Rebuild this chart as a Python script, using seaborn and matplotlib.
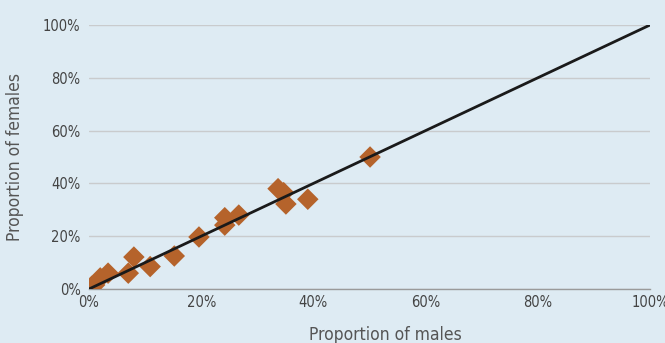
import matplotlib
matplotlib.use("Agg")
import matplotlib.pyplot as plt
import seaborn as sns
import pandas as pd
from matplotlib.ticker import PercentFormatter
from matplotlib import font_manager

males = [0.0, 0.005, 0.01, 0.02, 0.034, 0.07, 0.08, 0.109, 0.152, 0.196,
         0.242, 0.242, 0.267, 0.337, 0.347, 0.351, 0.39, 0.501]
females = [0.0, 0.01, 0.015, 0.042, 0.06, 0.06, 0.121, 0.085, 0.125, 0.197,
           0.242, 0.27, 0.28, 0.38, 0.365, 0.322, 0.34, 0.50]
line_x = [0.0, 1.0]
line_y = [0.0, 1.0]
ticks = [0, 0.2, 0.4, 0.6, 0.8, 1.0]

bg = "#deebf3"
sns.set_theme(style="white")
names = {f.name for f in font_manager.fontManager.ttflist}
if "DejaVu Sans Condensed" in names:
    fam = ["DejaVu Sans Condensed", "DejaVu Sans"]
else:
    fam = ["DejaVu Sans"]
plt.rcParams['font.family'] = fam
plt.rcParams['font.stretch'] = 'condensed'

fig = plt.figure(figsize=(6.65, 3.43), dpi=100, facecolor=bg)
ax = fig.add_axes([89/665, 1-289/343, (650-89)/665, (289-25)/343])
ax.set_facecolor(bg)

df = pd.DataFrame({"males": males, "females": females})
sns.scatterplot(data=df, x="males", y="females", marker="D", s=120,
                color="#b5632b", edgecolor="none", ax=ax, zorder=3)
sns.lineplot(x=line_x, y=line_y, color="#1a1a1a", linewidth=2, ax=ax, zorder=4)

ax.set_xlim(0, 1)
ax.set_ylim(0, 1)
ax.set_xticks(ticks)
ax.set_yticks(ticks)
ax.xaxis.set_major_formatter(PercentFormatter(1.0, decimals=0))
ax.yaxis.set_major_formatter(PercentFormatter(1.0, decimals=0))
ax.grid(axis="y", color="#c9cbcd", linewidth=1)
ax.grid(axis="x", visible=False)
for s in ["top", "right", "left"]:
    ax.spines[s].set_visible(False)
ax.spines["bottom"].set_color("#9a9a9a")
ax.spines["bottom"].set_linewidth(1)
ax.spines["bottom"].set_zorder(2)
ax.tick_params(axis="both", length=0, labelsize=10.5, colors="#444444")
ax.tick_params(axis="y", pad=6)
ax.tick_params(axis="x", pad=4)
ax.set_xlabel("Proportion of males", fontsize=12.5, color="#555555", labelpad=12)
ax.xaxis.label.set_x((385 - 89) / 561)
ax.set_ylabel("Proportion of females", fontsize=12.5, color="#555555", labelpad=14)
ax.set_axisbelow(True)

fig.savefig("out.png", dpi=100, facecolor=bg)
